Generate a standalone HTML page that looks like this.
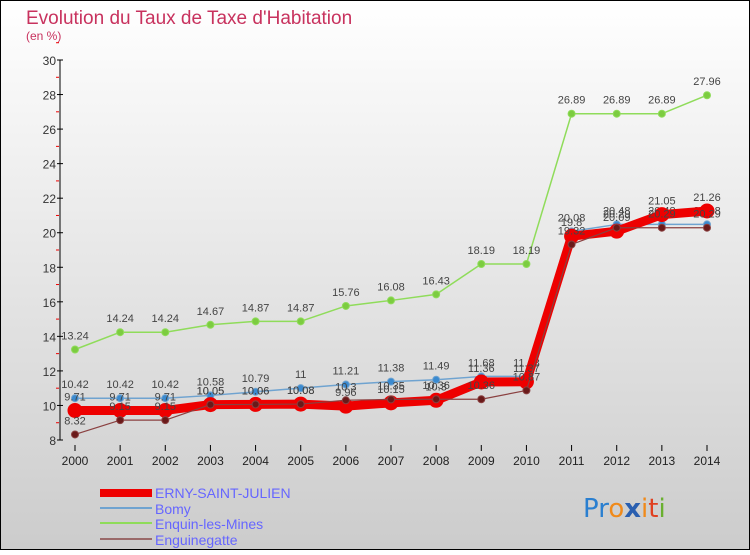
<!DOCTYPE html>
<html><head><meta charset="utf-8"><style>
body{margin:0;width:750px;height:550px;overflow:hidden;font-family:"Liberation Sans",sans-serif}
</style></head><body>
<svg width="750" height="550" xmlns="http://www.w3.org/2000/svg">
<defs><linearGradient id="bg" x1="0" y1="0" x2="0" y2="1"><stop offset="0" stop-color="#ffffff"/><stop offset="1" stop-color="#cccccc"/></linearGradient></defs>
<rect x="0.5" y="0.5" width="749" height="549" fill="url(#bg)" stroke="#000"/>
<text x="26" y="24" font-size="19" fill="#c8325e">Evolution du Taux de Taxe d'Habitation</text>
<text x="26" y="40" font-size="12" fill="#c8325e">(en %)</text>
<g id="axes"></g>
<g id="series"></g>
<g id="legend">
<rect x="100" y="489" width="52" height="8" fill="#ee0000"/>
<text x="155" y="498" font-size="14" fill="#6666ff">ERNY-SAINT-JULIEN</text>
<line x1="100" y1="508" x2="152" y2="508" stroke="#6fa3d0" stroke-width="2"/>
<text x="155" y="514" font-size="14" fill="#6666ff">Bomy</text>
<line x1="100" y1="523" x2="152" y2="523" stroke="#8fdc5a" stroke-width="2"/>
<text x="155" y="529" font-size="14" fill="#6666ff">Enquin-les-Mines</text>
<line x1="100" y1="539" x2="152" y2="539" stroke="#9a6a6a" stroke-width="2"/>
<text x="155" y="545" font-size="14" fill="#6666ff">Enguinegatte</text>
</g>
<g font-size="26" font-family="'DejaVu Sans',sans-serif">
<text x="583" y="517"><tspan fill="#2a7fd0">Pr</tspan><tspan fill="#f08a1a">o</tspan><tspan fill="#2a5fb0" font-weight="bold">x</tspan><tspan fill="#f08a1a">i</tspan><tspan fill="#e04020">t</tspan><tspan fill="#6ab030">i</tspan></text>
</g>
</svg>
<script>
const years=[2000,2001,2002,2003,2004,2005,2006,2007,2008,2009,2010,2011,2012,2013,2014];
const yTicks=[8,10,12,14,16,18,20,22,24,26,28,30];
const erny=[9.71,9.71,9.71,10.05,10.06,10.08,9.96,10.15,10.3,11.36,11.37,19.8,20.09,21.05,21.26];
const bomy=[10.42,10.42,10.42,10.58,10.79,11,11.21,11.38,11.49,11.68,11.68,20.08,20.48,20.48,20.48];
const enquin=[13.24,14.24,14.24,14.67,14.87,14.87,15.76,16.08,16.43,18.19,18.19,26.89,26.89,26.89,27.96];
const enguin=[8.32,9.15,9.15,10.05,10.06,10.08,10.3,10.35,10.36,10.36,10.87,19.32,20.29,20.29,20.29];
const NS="http://www.w3.org/2000/svg";
const xS=i=>75+i*(707-75)/(years.length-1);
const yS=v=>440-(v-8)*(380/22);
function mk(t,a,p){const e=document.createElementNS(NS,t);for(const k in a)e.setAttribute(k,a[k]);p.appendChild(e);return e;}
const ax=document.getElementById('axes');
const yl=mk('line',{x1:60,y1:60,x2:60,y2:440,stroke:'#000'},ax);


yTicks.forEach(v=>{
 mk('line',{x1:57,y1:yS(v),x2:63,y2:yS(v),stroke:'#000'},ax);
 mk('line',{x1:56,y1:yS(v+1),x2:59,y2:yS(v+1),stroke:'#e00'},ax);
 const t=mk('text',{x:56,y:yS(v)+5,'font-size':12,fill:'#333','text-anchor':'end'},ax);t.textContent=v;
 
 
});
years.forEach((y,i)=>{
 mk('line',{x1:xS(i),y1:445,x2:xS(i),y2:451,stroke:'#000'},ax);
 const t=mk('text',{x:xS(i),y:465,'font-size':12,fill:'#222','text-anchor':'middle'},ax);t.textContent=y;
 
 
});
const sg=document.getElementById('series');
function draw(vals,name,color,w,r,dot,dy){
 const g=mk('g',{},sg);
 
 
 mk('polyline',{points:vals.map((v,i)=>xS(i)+','+yS(v)).join(' '),fill:'none',stroke:color,'stroke-width':w,'stroke-linejoin':'round'},g);
 vals.forEach((v,i)=>{
  const c=mk('circle',{cx:xS(i),cy:yS(v),r:r,fill:dot,stroke:color,'stroke-width':1},g);
  
  
  const t=mk('text',{x:xS(i),y:yS(v)+dy,'font-size':11,fill:'#444','text-anchor':'middle'},g);t.textContent=v;
 });
}
draw(enquin,'series-enquin','#8fdc5a',1.5,3.5,'#7ccc40',-10);
draw(bomy,'series-bomy','#6fa3d0',1.5,3.5,'#3a8ad0',-10);
draw(erny,'series-erny','#ee0000',9,7,'#ee0000',-10);
draw(enguin,'series-enguinegatte','#8a4040',1.2,3.5,'#6a1a1a',-10);
</script>
</body></html>
